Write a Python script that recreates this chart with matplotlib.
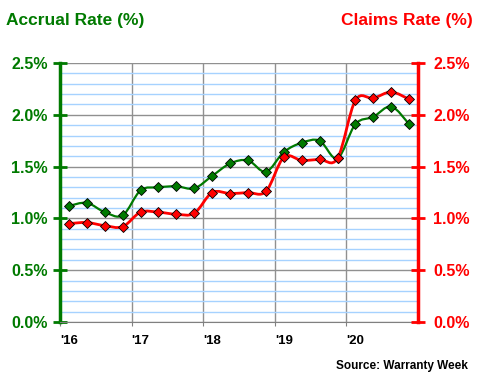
import numpy as np
import matplotlib.pyplot as plt
from matplotlib.path import Path
from matplotlib.patches import PathPatch
from matplotlib.ticker import MultipleLocator, NullLocator, FuncFormatter

plt.rcParams['font.family'] = ['Liberation Sans', 'DejaVu Sans']

# Quarterly data, 2016 Q1 .. 2020 Q4
years = [2016, 2017, 2018, 2019, 2020]
year_labels = ["'16", "'17", "'18", "'19", "'20"]
quarters = [y + (q - 0.5) / 4 for y in years for q in range(1, 5)]
accrual = [1.12, 1.15, 1.06, 1.03,
           1.27, 1.30, 1.31, 1.29,
           1.41, 1.53, 1.56, 1.45,
           1.64, 1.73, 1.75, 1.58,
           1.91, 1.98, 2.08, 1.91]
claims = [0.95, 0.96, 0.93, 0.92,
          1.06, 1.06, 1.04, 1.05,
          1.25, 1.24, 1.25, 1.26,
          1.59, 1.56, 1.57, 1.58,
          2.14, 2.16, 2.22, 2.15]

GREEN = '#007a00'
RED = '#ff0000'


def smooth_path(x, y):
    # Excel-style smoothed line: cubic Bezier segments (Catmull-Rom control points)
    x = np.asarray(x, float)
    y = np.asarray(y, float)
    n = len(x)
    verts = [(x[0], y[0])]
    codes = [Path.MOVETO]
    for i in range(n - 1):
        x0, y0 = (x[i - 1], y[i - 1]) if i > 0 else (x[i], y[i])
        x3, y3 = (x[i + 2], y[i + 2]) if i + 2 < n else (x[i + 1], y[i + 1])
        c1 = (x[i] + (x[i + 1] - x0) / 6, y[i] + (y[i + 1] - y0) / 6)
        c2 = (x[i + 1] - (x3 - x[i]) / 6, y[i + 1] - (y3 - y[i]) / 6)
        verts += [c1, c2, (x[i + 1], y[i + 1])]
        codes += [Path.CURVE4] * 3
    return Path(verts, codes)


fig = plt.figure(figsize=(4.8, 3.8), dpi=100)
ax = fig.add_axes([0.125, 0.1526, 0.746, 0.6816])
ax2 = ax.twinx()

for a in (ax, ax2):
    a.set_xlim(2016, 2021)
    a.set_ylim(0, 2.5)
    a.spines['top'].set_visible(False)

# grid
ax.yaxis.set_minor_locator(MultipleLocator(0.1))
ax.grid(True, which='minor', axis='y', color='#a6d2ff', lw=1)
ax.grid(True, which='major', axis='y', color='#909090', lw=1)
ax.grid(True, which='major', axis='x', color='#909090', lw=1)
ax.set_axisbelow(True)

# lines
ax.add_patch(PathPatch(smooth_path(quarters, accrual), fill=False,
                       ec=GREEN, lw=1.6, zorder=3))
ax.plot(quarters, accrual, ls='none', marker='D', ms=5, mfc=GREEN,
        mec='black', mew=0.6, zorder=4)
ax.add_patch(PathPatch(smooth_path(quarters, claims), fill=False,
                       ec=RED, lw=2, zorder=3))
ax.plot(quarters, claims, ls='none', marker='D', ms=5, mfc=RED,
        mec='black', mew=0.6, zorder=4)

# axes styling
pct = FuncFormatter(lambda v, p: f'{v:.1f}%')
ax.yaxis.set_major_locator(MultipleLocator(0.5))
ax.yaxis.set_major_formatter(pct)
ax2.yaxis.set_major_locator(MultipleLocator(0.5))
ax2.yaxis.set_minor_locator(NullLocator())
ax2.yaxis.set_major_formatter(pct)
ax.tick_params(axis='y', which='major', direction='inout', length=10, width=2,
               colors=GREEN, labelsize=11.5, pad=4)
ax.tick_params(axis='y', which='minor', length=0, width=0)
ax2.tick_params(axis='y', which='major', direction='inout', length=10, width=2,
                colors=RED, labelsize=11.5, pad=6)
ax2.tick_params(axis='y', which='minor', length=0, width=0)
for lab in ax.get_yticklabels():
    lab.set_fontweight('bold')
for lab in ax2.get_yticklabels():
    lab.set_fontweight('bold')

ax.spines['left'].set_color(GREEN)
ax.spines['left'].set_linewidth(2.5)
ax2.spines['right'].set_color(RED)
ax2.spines['right'].set_linewidth(2.5)
ax2.spines['left'].set_visible(False)
ax.spines['right'].set_visible(False)
ax.spines['bottom'].set_color('#808080')
ax2.spines['bottom'].set_visible(False)

ax.set_xticks(years)
ax.set_xticklabels(year_labels, fontweight='bold', fontsize=9.5, ha='left')
ax.tick_params(axis='x', which='both', direction='out', length=3,
               color='#808080', pad=6)
ax.tick_params(axis='x', which='minor', length=0)

fig.text(0.012, 0.965, 'Accrual Rate (%)', color=GREEN, fontsize=12.5,
         fontweight='bold', va='top', ha='left')
fig.text(0.985, 0.965, 'Claims Rate (%)', color=RED, fontsize=12.5,
         fontweight='bold', va='top', ha='right')
fig.text(0.975, 0.02, 'Source: Warranty Week', color='black', fontsize=8.5,
         fontweight='bold', va='bottom', ha='right')

fig.savefig('out.png', dpi=100)
